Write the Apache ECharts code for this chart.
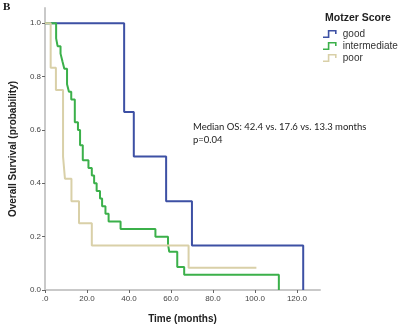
<!DOCTYPE html>
<html>
<head>
<meta charset="utf-8">
<script src="https://cdn.jsdelivr.net/npm/echarts@6/dist/echarts.min.js"></script>
<style>
  html, body { margin: 0; padding: 0; background: #fff; }
  #chart { width: 398px; height: 329px; }
</style>
</head>
<body>
<div id="chart"></div>
<script>
// Kaplan-Meier curves, values (months, survival)
const goodTimes = [0, 37.7, 42.3, 57.7, 70.0, 123.0]
const goodSurv = [1.0, 0.667, 0.5, 0.333, 0.167, 0]

const midTimes = [0, 5.3, 6.0, 7.4, 8.3, 9.2, 10.5, 11.4, 12.5, 14.2, 15.7, 16.7, 18.0, 20.7, 22.3, 23.4, 24.6, 26.2, 27.2, 28.8, 30.3, 36.0, 52.6, 58.6, 59.2, 63.0, 66.3, 111.4]
const midSurv = [1.0, 0.943, 0.914, 0.886, 0.857, 0.829, 0.771, 0.743, 0.714, 0.629, 0.6, 0.543, 0.486, 0.457, 0.429, 0.4, 0.371, 0.343, 0.314, 0.286, 0.257, 0.229, 0.2, 0.171, 0.143, 0.086, 0.057, 0]

const poorTimes = [0, 2.7, 5.2, 8.6, 9.5, 12.6, 16.2, 22.3, 68.4, 100.7]
const poorSurv = [1.0, 0.833, 0.75, 0.5, 0.417, 0.333, 0.25, 0.167, 0.083, 0.083]

const groupNames = ['good', 'intermediate', 'poor']
const groupColors = ['#3d50a4', '#3bb04a', '#d9d0a8']

const xTicks = [0, 20, 40, 60, 80, 100, 120]
const yTicks = [0, 0.2, 0.4, 0.6, 0.8, 1.0]

const legendTitle = 'Motzer Score'
const noteLines = ['Median OS: 42.4 vs. 17.6 vs. 13.3 months', 'p=0.04']

const sans = 'Liberation Sans, Arial, sans-serif'

function zip(xs, ys) {
  return xs.map((x, i) => [x, ys[i]])
}

const curves = [zip(goodTimes, goodSurv), zip(midTimes, midSurv), zip(poorTimes, poorSurv)]

// small step icon like the SPSS legend
const stepIcon = 'path://M0,9 L6,9 L6,1 L17,1 L17,6 L15,6 L15,3 L8,3 L8,11 L0,11 Z'

const chart = echarts.init(document.getElementById('chart'))

const option = {
  animation: false,
  backgroundColor: '#fff',
  title: [
    { text: 'B', left: 3, top: 2, padding: 0, textStyle: { fontFamily: 'Liberation Serif, serif', fontWeight: 'bold', fontSize: 11, color: '#111' } },
    { text: legendTitle, left: 325, top: 13, padding: 0, textStyle: { fontFamily: sans, fontWeight: 'bold', fontSize: 10.5, color: '#222' } }
  ],
  legend: {
    orient: 'vertical',
    left: 323,
    top: 29,
    padding: 0,
    itemWidth: 16,
    itemHeight: 8,
    itemGap: 2,
    icon: stepIcon,
    data: groupNames,
    textStyle: { fontFamily: sans, fontSize: 10, color: '#333' }
  },
  grid: { left: 36, top: 8, width: 284, height: 288 },
  xAxis: {
    type: 'value',
    min: 0,
    max: 131,
    name: 'Time (months)',
    nameLocation: 'middle',
    nameGap: 24,
    nameTextStyle: { fontFamily: sans, fontWeight: 'bold', fontSize: 10, color: '#222' },
    axisLine: { lineStyle: { color: '#c9c9c9', width: 2 } },
    axisTick: { customValues: xTicks, length: 3, lineStyle: { color: '#666' } },
    axisLabel: {
      customValues: xTicks,
      fontFamily: sans,
      fontSize: 8,
      color: '#444',
      margin: 5,
      formatter: (v) => v === 0 ? '.0' : v.toFixed(1)
    },
    splitLine: { show: false }
  },
  yAxis: {
    type: 'value',
    min: 0,
    max: 1.057,
    name: 'Overall Survival (probability)',
    nameLocation: 'middle',
    nameGap: 27,
    nameTextStyle: { fontFamily: sans, fontWeight: 'bold', fontSize: 10, color: '#222' },
    axisLine: { show: true, lineStyle: { color: '#c9c9c9', width: 2 } },
    axisTick: { show: true, customValues: yTicks, length: 3, lineStyle: { color: '#666' } },
    axisLabel: {
      customValues: yTicks,
      fontFamily: sans,
      fontSize: 8,
      color: '#444',
      margin: 4,
      formatter: (v) => v.toFixed(1)
    },
    splitLine: { show: false }
  },
  graphic: [
    { type: 'text', left: 193, top: 122, style: { text: noteLines[0], font: '9.5px Lato, "Open Sans", sans-serif', fill: '#222' } },
    { type: 'text', left: 193, top: 135, style: { text: noteLines[1], font: '9.5px Lato, "Open Sans", sans-serif', fill: '#222' } }
  ],
  series: curves.map((data, i) => ({
    type: 'line',
    name: groupNames[i],
    step: 'end',
    data: data,
    showSymbol: false,
    color: groupColors[i],
    lineStyle: { color: groupColors[i], width: 2 },
    z: 2 + i
  }))
}

chart.setOption(option)
</script>
</body>
</html>
